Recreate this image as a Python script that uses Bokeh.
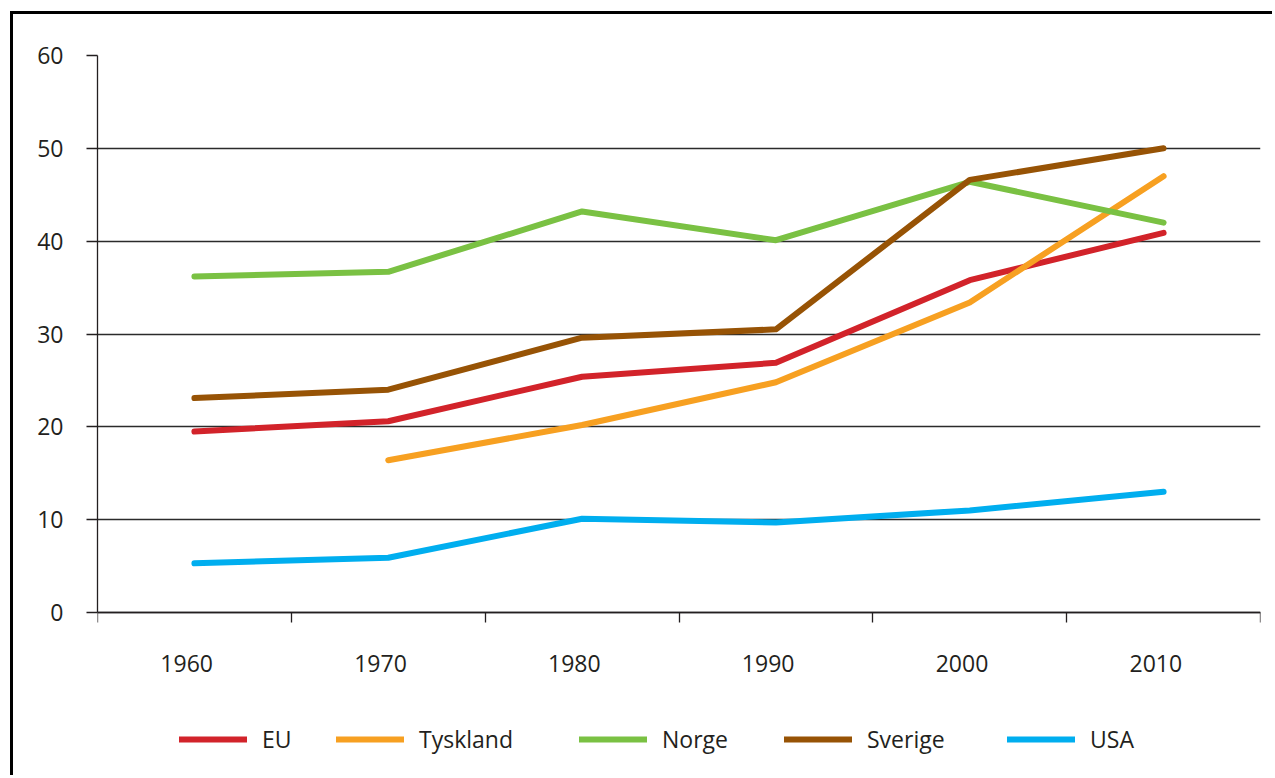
from bokeh.plotting import figure
from bokeh.models import (Range1d, FixedTicker, Legend, LegendItem,
                          CustomJSTickFormatter)
from bokeh.embed import file_html
from bokeh.resources import INLINE

# Decades on the x axis
years = [1960, 1970, 1980, 1990, 2000, 2010]

# Series values (per cent)
eu = [19.5, 20.6, 25.4, 26.9, 35.8, 40.9]
tyskland_years = [1970, 1980, 1990, 2000, 2010]
tyskland = [16.4, 20.2, 24.8, 33.4, 47.0]
norge = [36.2, 36.7, 43.2, 40.1, 46.4, 42.0]
sverige = [23.1, 24.0, 29.6, 30.5, 46.6, 50.0]
usa = [5.3, 5.9, 10.1, 9.7, 11.0, 13.0]

y_ticks = [0, 10, 20, 30, 40, 50, 60]

FONT = "Open Sans"
TEXT = "#231f20"

# The frame reaches down to the bottom edge so the legend row can sit
# inside it; the x axis is pinned at y = 0.
p = figure(
    width=1262, height=764,
    output_backend="svg", toolbar_location=None,
    x_range=Range1d(1955, 2015), y_range=Range1d(-17.88, 60),
    min_border_left=84, min_border_right=15,
    min_border_top=41, min_border_bottom=0,
    margin=(11, 0, 0, 10),
    styles={"border-left": "3px solid #000", "border-top": "3px solid #000"},
)
p.outline_line_color = None
p.background_fill_color = "white"
p.border_fill_color = "white"

# Horizontal grid lines only
p.xgrid.grid_line_color = None
p.ygrid.ticker = FixedTicker(ticks=y_ticks)
p.ygrid.grid_line_color = "#2b2b2b"
p.ygrid.grid_line_width = 1.3

# Y axis
p.yaxis.ticker = FixedTicker(ticks=y_ticks)
p.yaxis.bounds = (0, 60)
p.yaxis.axis_line_color = "#231f20"
p.yaxis.axis_line_width = 1.3
p.yaxis.major_tick_out = 11
p.yaxis.major_tick_in = 0
p.yaxis.major_tick_line_color = "#231f20"
p.yaxis.major_tick_line_width = 1.3
p.yaxis.minor_tick_line_color = None
p.yaxis.major_label_standoff = 23
p.yaxis.major_label_text_font = FONT
p.yaxis.major_label_text_font_size = "23px"
p.yaxis.major_label_text_color = TEXT

# X axis: decade labels (set slightly left of each decade), tick marks
# halfway between the decades
p.xaxis.fixed_location = 0
p.xaxis.ticker = FixedTicker(ticks=[y - 0.4 for y in years],
                             minor_ticks=[1955, 1965, 1975, 1985, 1995, 2005, 2015])
p.xaxis.formatter = CustomJSTickFormatter(code="return String(Math.round(tick))")
p.xaxis.axis_line_color = "#231f20"
p.xaxis.axis_line_width = 1.3
p.xaxis.major_tick_line_color = None
p.xaxis.major_tick_out = 0
p.xaxis.major_tick_in = 0
p.xaxis.minor_tick_line_color = "#231f20"
p.xaxis.minor_tick_line_width = 1.3
p.xaxis.minor_tick_out = 10
p.xaxis.minor_tick_in = 0
p.xaxis.major_label_standoff = 32
p.xaxis.major_label_text_font = FONT
p.xaxis.major_label_text_font_size = "23px"
p.xaxis.major_label_text_color = TEXT

series = [
    ("EU", years, eu, "#d2232a"),
    ("Tyskland", tyskland_years, tyskland, "#f7a021"),
    ("Norge", years, norge, "#7ac143"),
    ("Sverige", years, sverige, "#975305"),
    ("USA", years, usa, "#00aeef"),
]

# Legend entries are laid out in a row below the x axis labels
legend_x = [82, 239, 482, 687, 910]

for (name, xs, ys, color), lx in zip(series, legend_x):
    r = p.line(xs, ys, line_color=color, line_width=6,
               line_cap="round", line_join="round")
    leg = Legend(
        items=[LegendItem(label=name, renderers=[r])],
        location=(lx, 23),
        glyph_width=68, glyph_height=20, label_standoff=15,
        label_text_font=FONT, label_text_font_size="23px",
        label_text_color=TEXT,
        border_line_color=None, background_fill_alpha=0,
        margin=0, padding=0,
    )
    p.add_layout(leg, "center")

open("out.html", "w").write(file_html(p, INLINE))
